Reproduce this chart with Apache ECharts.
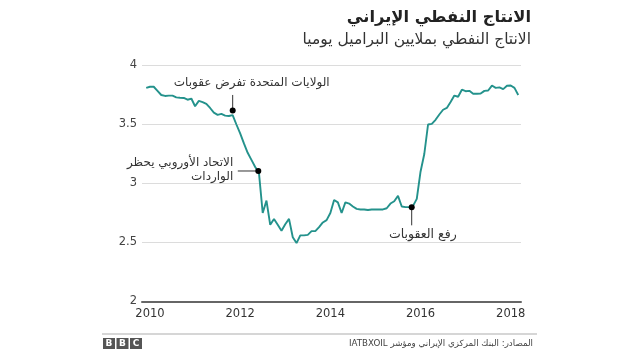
<!DOCTYPE html>
<html>
<head>
<meta charset="utf-8">
<script src="https://cdn.jsdelivr.net/npm/echarts@6/dist/echarts.min.js"></script>
<style>
html,body{margin:0;padding:0;background:#fff;}
#c{width:640px;height:360px;}
</style>
</head>
<body>
<div id="c" dir="rtl"></div>
<script>
// Monthly production, million barrels per day, starting Dec 2009
const startYear = 2009 + 11/12;
const production = [
  3.81,3.82,3.82,3.785,3.75,3.742,3.745,3.745,3.73,3.727,3.725,3.71,
  3.72,3.655,3.70,3.69,3.675,3.64,3.60,3.582,3.59,3.575,3.572,3.58,
  3.50,3.425,3.34,3.26,3.20,3.14,3.09,2.75,2.855,2.65,2.70,2.65,
  2.60,2.655,2.70,2.545,2.495,2.56,2.56,2.565,2.596,2.596,2.63,2.67,
  2.69,2.75,2.86,2.84,2.75,2.84,2.83,2.805,2.785,2.78,2.78,2.775,
  2.78,2.78,2.78,2.78,2.79,2.83,2.85,2.895,2.805,2.80,2.80,2.81,
  2.87,3.10,3.25,3.50,3.505,3.54,3.585,3.625,3.64,3.69,3.745,3.735,
  3.795,3.782,3.785,3.76,3.76,3.762,3.785,3.788,3.83,3.81,3.815,3.80,
  3.828,3.83,3.81,3.75
];
const yearTicks = [2010, 2012, 2014, 2016, 2018];
const yTicks = [2, 2.5, 3, 3.5, 4];

const titleText = 'الانتاج النفطي الإيراني';
const subtitleText = 'الانتاج النفطي بملايين البراميل يوميا';
const sourceText = 'المصادر: البنك المركزي الإيراني ومؤشر IATBXOIL';

// annotation events: [year, value]
const eventUS = {label: 'الولايات المتحدة تفرض عقوبات', at: [2011.834, 3.619]};
const eventEU = {label: ['الاتحاد الأوروبي يحظر', 'الواردات'], at: [2012.402, 3.106]};
const eventLift = {label: 'رفع العقوبات', at: [2015.804, 2.798]};

const seriesData = production.map((v, i) => [startYear + i / 12, v]);

const chart = echarts.init(document.getElementById('c'), null, {renderer: 'canvas'});
const arFont = "'DejaVu Sans', sans-serif";
const numFont = "'DejaVu Sans', sans-serif";

chart.setOption({
  animation: false,
  backgroundColor: '#fff',
  grid: {left: 142, right: 119, top: 65.5, bottom: 58.5},
  xAxis: {
    type: 'value', min: 2009.823, max: 2018.228,
    axisLine: {show: true, onZero: false, lineStyle: {color: '#666', width: 2}},
    axisTick: {show: false},
    splitLine: {show: false},
    axisLabel: {
      customValues: yearTicks, color: '#333', fontSize: 11.5, fontFamily: numFont, margin: 7,
      formatter: v => String(Math.round(v))
    }
  },
  yAxis: {
    type: 'value', min: 2, max: 4, interval: 0.5,
    axisLine: {show: false}, axisTick: {show: false},
    splitLine: {lineStyle: {color: '#dcdcdc', width: 1}},
    axisLabel: {color: '#444', fontSize: 11.5, fontFamily: numFont, margin: 5,
      formatter: v => String(v)}
  },
  series: [{
    type: 'line', data: seriesData, showSymbol: false, clip: false,
    lineStyle: {color: '#24928c', width: 1.9}, z: 3
  }]
});

function px(pt){ return chart.convertToPixel({gridIndex: 0}, pt); }
const us = px(eventUS.at), eu = px(eventEU.at), lf = px(eventLift.at);
const annColor = '#333';
const g = [];
// title
g.push({type:'text', style:{text:titleText, x:531, y:18, textAlign:'right', textVerticalAlign:'middle', font:"bold 16.3px "+arFont, fill:'#222'}});
g.push({type:'text', style:{text:subtitleText, x:531, y:40, textAlign:'right', textVerticalAlign:'middle', font:"15.5px "+arFont, fill:'#333'}});
// US annotation
g.push({type:'line', shape:{x1:us[0], y1:us[1], x2:us[0], y2:us[1]-15.5}, style:{stroke:annColor, lineWidth:1}, z:10});
g.push({type:'circle', shape:{cx:us[0], cy:us[1], r:3}, style:{fill:'#000'}, z:11});
g.push({type:'text', style:{text:eventUS.label, x:us[0]+97, y:us[1]-27.5, textAlign:'right', textVerticalAlign:'middle', font:"12px "+arFont, fill:annColor}, z:10});
// EU annotation
g.push({type:'line', shape:{x1:eu[0], y1:eu[1], x2:eu[0]-20.5, y2:eu[1]}, style:{stroke:annColor, lineWidth:1}, z:10});
g.push({type:'circle', shape:{cx:eu[0], cy:eu[1], r:3}, style:{fill:'#000'}, z:11});
g.push({type:'text', style:{text:eventEU.label[0], x:eu[0]-25, y:eu[1]-7.7, textAlign:'right', textVerticalAlign:'middle', font:"12px "+arFont, fill:annColor}, z:10});
g.push({type:'text', style:{text:eventEU.label[1], x:eu[0]-25, y:eu[1]+5.7, textAlign:'right', textVerticalAlign:'middle', font:"12px "+arFont, fill:annColor}, z:10});
// Lift annotation
g.push({type:'line', shape:{x1:lf[0], y1:lf[1], x2:lf[0], y2:lf[1]+18}, style:{stroke:annColor, lineWidth:1}, z:10});
g.push({type:'circle', shape:{cx:lf[0], cy:lf[1], r:3}, style:{fill:'#000'}, z:11});
g.push({type:'text', style:{text:eventLift.label, x:lf[0]+45, y:lf[1]+27, textAlign:'right', textVerticalAlign:'middle', font:"12.5px "+arFont, fill:annColor}, z:10});
// footer
g.push({type:'line', shape:{x1:102, y1:334, x2:537, y2:334}, style:{stroke:'#c8c8c8', lineWidth:1.5}});
['B','B','C'].forEach((ch, k) => {
  const x0 = 103 + k * 13.5;
  g.push({type:'rect', shape:{x:x0, y:338, width:12, height:11}, style:{fill:'#555'}});
  g.push({type:'text', style:{text:ch, x:x0+6, y:343.8, textAlign:'center', textVerticalAlign:'middle', font:"bold 9px 'DejaVu Sans', sans-serif", fill:'#fff'}});
});
g.push({type:'text', style:{text:sourceText, x:533, y:344, textAlign:'right', textVerticalAlign:'middle', font:"8.7px "+arFont, fill:'#444'}});
chart.setOption({graphic: g});
</script>
</body>
</html>
